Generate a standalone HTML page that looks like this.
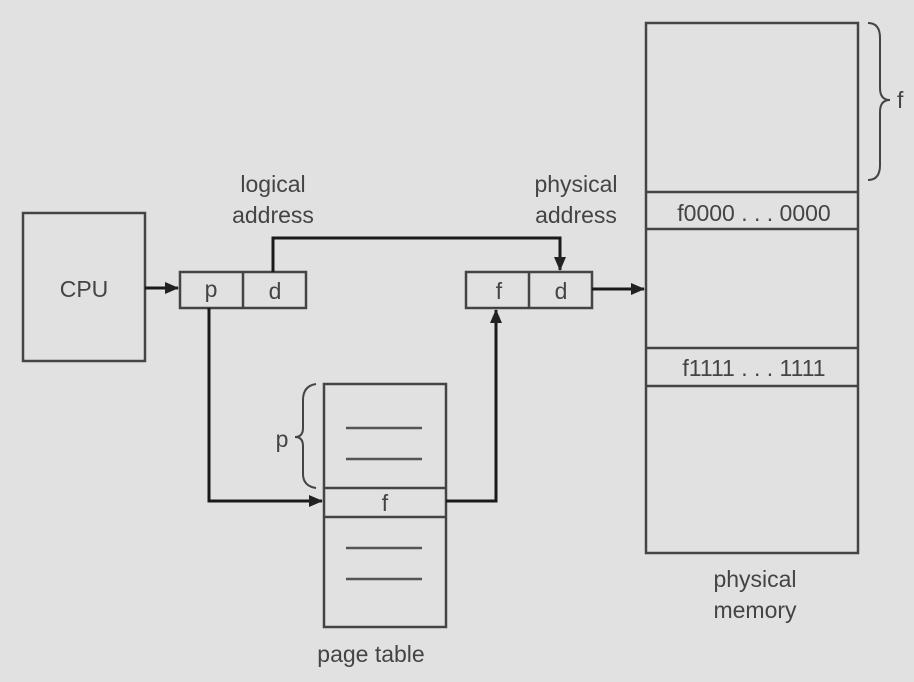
<!DOCTYPE html>
<html><head><style>
html,body{margin:0;padding:0;background:#e1e1e1;}
svg{display:block}
text{font-family:"Liberation Sans",Arial,sans-serif;fill:#444;font-size:23px}
</style></head><body>
<svg width="914" height="682" viewBox="0 0 914 682">
<defs>
<marker id="b" markerWidth="14" markerHeight="12" refX="13" refY="6" orient="auto" markerUnits="userSpaceOnUse"><path d="M0,0 L14,6 L0,12 z" fill="#222"/></marker></defs>
<g stroke="#444" stroke-width="2.5" fill="none">
<rect x="23" y="213" width="122" height="148"/>
<rect x="180" y="272" width="126" height="36"/>
<line x1="243" y1="272" x2="243" y2="308"/>
<rect x="466" y="272" width="126" height="36"/>
<line x1="529" y1="272" x2="529" y2="308"/>
<rect x="646" y="23" width="212" height="530"/>
<line x1="646" y1="192" x2="858" y2="192"/>
<line x1="646" y1="229" x2="858" y2="229"/>
<line x1="646" y1="348" x2="858" y2="348"/>
<line x1="646" y1="386" x2="858" y2="386"/>
<rect x="324" y="384" width="122" height="243"/>
<line x1="324" y1="488" x2="446" y2="488"/>
<line x1="324" y1="517" x2="446" y2="517"/>
<g stroke="#555"><line x1="346" y1="428" x2="422" y2="428"/><line x1="346" y1="459" x2="422" y2="459"/><line x1="346" y1="548" x2="422" y2="548"/><line x1="346" y1="579" x2="422" y2="579"/></g>
<path d="M868,23 Q880,23 880,38 L880,88 Q880,100 890,100 Q880,100 880,112 L880,165 Q880,180 868,180" stroke-width="2"/>
<path d="M316,384 Q303,386 303,400 L303,428 Q303,437 295,437 Q303,437 303,446 L303,474 Q303,486 316,488" stroke-width="2"/>
</g>
<g stroke="#1a1a1a" stroke-width="3" fill="none">
<line x1="145" y1="288" x2="178" y2="288" marker-end="url(#b)"/>
<polyline points="273,272 273,238 560,238 560,270" marker-end="url(#b)"/>
<line x1="592" y1="289" x2="644" y2="289" marker-end="url(#b)"/>
<polyline points="209,308 209,501 322,501" marker-end="url(#b)"/>
<polyline points="446,501 496,501 496,310" marker-end="url(#b)"/>
</g>
<text x="84" y="297" text-anchor="middle">CPU</text>
<text x="211" y="297" text-anchor="middle">p</text>
<text x="275" y="299" text-anchor="middle">d</text>
<text x="499" y="299" text-anchor="middle">f</text>
<text x="561" y="299" text-anchor="middle">d</text>
<text x="385" y="511" text-anchor="middle" font-size="17">f</text>
<text x="282" y="447" text-anchor="middle">p</text>
<text x="897" y="108" font-size="18">f</text>
<text x="273" y="192" text-anchor="middle">logical</text>
<text x="273" y="223" text-anchor="middle">address</text>
<text x="576" y="192" text-anchor="middle">physical</text>
<text x="576" y="223" text-anchor="middle">address</text>
<text x="754" y="221" text-anchor="middle" font-size="22">f0000 . . . 0000</text>
<text x="754" y="376" text-anchor="middle" font-size="22">f1111 . . . 1111</text>
<text x="755" y="587" text-anchor="middle">physical</text>
<text x="755" y="618" text-anchor="middle">memory</text>
<text x="371" y="662" text-anchor="middle">page table</text>
</svg>
</body></html>
